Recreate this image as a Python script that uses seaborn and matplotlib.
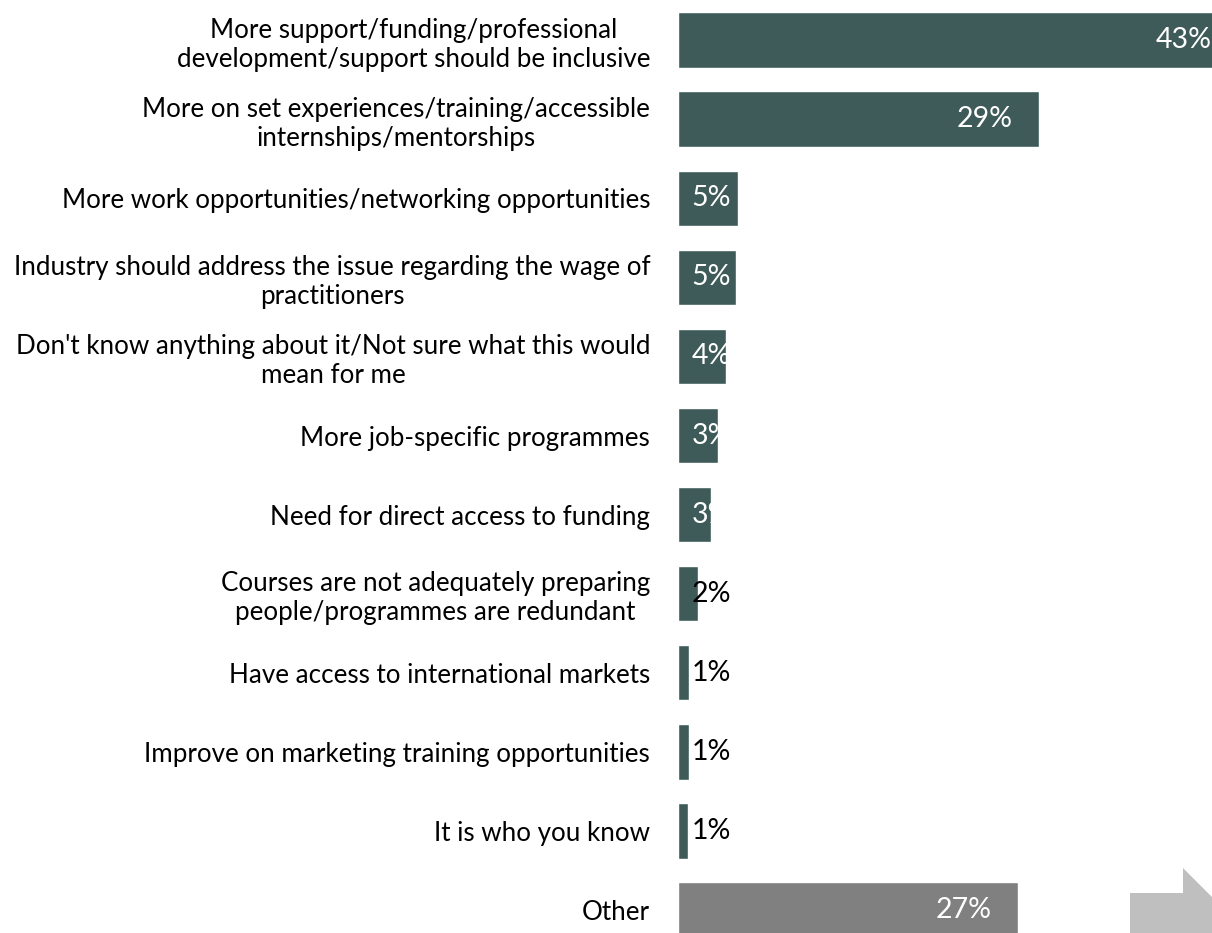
import matplotlib
matplotlib.use("Agg")
import matplotlib.pyplot as plt
from matplotlib.patches import Polygon
import seaborn as sns
import pandas as pd

categories = [
    "More support/funding/professional\ndevelopment/support should be inclusive",
    "More on set experiences/training/accessible\ninternships/mentorships",
    "More work opportunities/networking opportunities",
    "Industry should address the issue regarding the wage of\npractitioners",
    "Don't know anything about it/Not sure what this would\nmean for me",
    "More job-specific programmes",
    "Need for direct access to funding",
    "Courses are not adequately preparing\npeople/programmes are redundant",
    "Have access to international markets",
    "Improve on marketing training opportunities",
    "It is who you know",
    "Other",
]
shares = [43.4, 28.9, 4.8, 4.6, 3.8, 3.2, 2.6, 1.6, 0.9, 0.9, 0.8, 27.2]
bar_colors = ["#3E5B59"] * 11 + ["#808080"]

df = pd.DataFrame({"category": categories, "share": shares})

sns.set_theme(style="white")
plt.rcParams["font.family"] = ["Lato", "DejaVu Sans"]

W, H = 1212, 933
fig = plt.figure(figsize=(W / 100, H / 100), dpi=100)
x0 = 678
ax = fig.add_axes([x0 / W, 0, 1 - x0 / W, 1])

sns.barplot(
    data=df, x="share", y="category", hue="category",
    palette=bar_colors, legend=False, width=0.7, orient="h",
    saturation=1, ax=ax,
)

px_per_pct = 12.5
xmax = (W - x0) / px_per_pct
ax.set_xlim(0, xmax)
row0, step = 40, 79.1
ax.set_ylim((H - row0) / step, -row0 / step)

sns.despine(ax=ax, left=True, bottom=True)
ax.set_xticks([])
ax.set_xlabel("")
ax.set_ylabel("")
ax.tick_params(axis="y", length=0, pad=20)
for lbl in ax.get_yticklabels():
    lbl.set_fontsize(18.7)
    lbl.set_color("#000000")
    lbl.set_multialignment("center")
    lbl.set_linespacing(1.2)

# value labels: inside end for long bars (kept within the axes), fixed offset for short ones
for i, v in enumerate(shares):
    txt = f"{v:.0f}%"
    if v >= 10:
        xr = v - 2.1 if v < xmax else xmax - 0.05
        ax.text(xr, i, txt, ha="right", va="center", color="white", fontsize=20.5)
    else:
        col = "white" if v >= 2.5 else "black"
        ax.text(1.1, i, txt, ha="left", va="center", color=col, fontsize=20.5)

# navigation arrow shape in the lower right corner
arrow = Polygon(
    [(1130 / W, 0), (1130 / W, (H - 893) / H), (1183 / W, (H - 893) / H),
     (1183 / W, (H - 868) / H), (1, (H - 897) / H), (1, 0)],
    closed=True, transform=fig.transFigure, facecolor="#BFBFBF",
    edgecolor="none", zorder=5,
)
fig.patches.append(arrow)

fig.savefig("out.png", dpi=100)
